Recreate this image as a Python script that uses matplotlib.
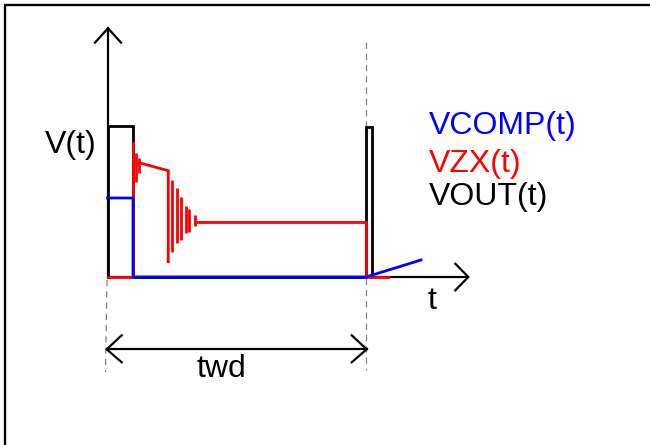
import numpy as np
import matplotlib
matplotlib.use("Agg")
import matplotlib.pyplot as plt

plt.rcParams['font.family'] = ['Liberation Sans', 'DejaVu Sans']

# ---- data (schematic units: t to the right, V upwards, origin at axes crossing) ----
vout_t = [0, 0, 25.5, 25.5, 258.5, 258.5, 264.5, 264.5]
vout_v = [0, 151, 151, 0, 0, 150, 150, 0]

vcomp_t = [0, 25.5, 25.5, 258.5, 313.5]
vcomp_v = [79, 79, 0, 0, 17]

vzx_t = [0, 25.5, 25.5]
vzx_v = [0, 0, 134]
vzx_slope_t = [31.5, 60.8, 60.8]
vzx_slope_v = [114.3, 106.3, 15.3]
vzx_tail_t = [87.5, 258.5, 258.5, 280.5]
vzx_tail_v = [55.3, 55.3, 0, 0]

ring1_t = [28.5, 31.0]
ring1_lo = [95.3, 104.0]
ring1_hi = [124.0, 119.0]

ring2_t = [64.5, 69.8, 73.5, 78.5, 81.8, 87.5]
ring2_lo = [25.0, 33.7, 37.0, 43.7, 45.3, 51.3]
ring2_hi = [97.0, 88.7, 79.7, 71.0, 68.0, 62.0]

labels = ["VCOMP(t)", "VZX(t)", "VOUT(t)"]
label_colors = ["#0000ff", "#ff0000", "#000000"]
label_v = [143, 105.3, 72]

t_axis_end = 360.8
v_axis_end = 248.7
twd_start, twd_end, twd_level = -0.8, 259.2, -72.3

BLUE = "#0000ff"
RED = "#ff0000"
BLACK = "#000000"
GRAY = "#808080"

fig = plt.figure(figsize=(6.5, 4.45), dpi=100)
ax = fig.add_axes([0, 0, 1, 1])
ax.set_xlim(-107.5, 542.5)
ax.set_ylim(-168, 277)
ax.axis('off')

# frame (top and left edges)
ax.plot([4.5 / 650, 4.5 / 650, 1.0], [0.0, 1 - 5 / 445, 1 - 5 / 445],
        transform=ax.transAxes, color=BLACK, lw=1.7, solid_joinstyle='miter',
        clip_on=False)

# dashed guides
ax.plot([258.5, 258.5], [235, -93], color=GRAY, lw=0.9, ls=(0, (5, 4)))
ax.plot([-0.5, -2.0], [-3, -95], color=GRAY, lw=0.9, ls=(0, (5, 4)))

axlw = 1.6
# axes with open arrows
ax.plot([0.5, 0.5], [0, v_axis_end], color=BLACK, lw=axlw)
ax.plot([0.5 - 13, 0.5, 0.5 + 13], [v_axis_end - 14.3, v_axis_end, v_axis_end - 14.3],
        color=BLACK, lw=axlw)
ax.plot([0.5, t_axis_end], [0, 0], color=BLACK, lw=axlw)
ax.plot([t_axis_end - 13, t_axis_end, t_axis_end - 13], [13.3, 0, -13.3],
        color=BLACK, lw=axlw)

# twd double arrow
ax.plot([twd_start, twd_end], [twd_level, twd_level], color=BLACK, lw=axlw)
ax.plot([twd_start + 15, twd_start, twd_start + 15],
        [twd_level + 14, twd_level, twd_level - 13], color=BLACK, lw=axlw)
ax.plot([twd_end - 15, twd_end, twd_end - 15],
        [twd_level + 14, twd_level, twd_level - 13], color=BLACK, lw=axlw)

wlw = 2.0
# VOUT
ax.plot(vout_t, vout_v, color=BLACK, lw=wlw, solid_joinstyle='miter')
# VZX
ax.plot(vzx_t, vzx_v, color=RED, lw=wlw, solid_joinstyle='miter')
ax.plot(vzx_slope_t, vzx_slope_v, color=RED, lw=wlw, solid_joinstyle='miter')
ax.plot(vzx_tail_t, vzx_tail_v, color=RED, lw=wlw, solid_joinstyle='miter')
ax.vlines(ring1_t, ring1_lo, ring1_hi, color=RED, lw=wlw)
ax.vlines(ring2_t, ring2_lo, ring2_hi, color=RED, lw=wlw)
# VCOMP
ax.plot(vcomp_t, vcomp_v, color=BLUE, lw=wlw, solid_joinstyle='miter')

fs = 23
ax.text(-62.5, 123.7, "V(t)", fontsize=fs, color=BLACK, ha='left', va='baseline')
ax.text(320.5, -32, "t", fontsize=fs, color=BLACK, ha='left', va='baseline')
ax.text(113.5, -99.7, "twd", fontsize=fs, color=BLACK, ha='center', va='baseline')
for lab, col, v in zip(labels, label_colors, label_v):
    ax.text(321.8, v, lab, fontsize=fs, color=col, ha='left', va='baseline')

fig.savefig("out.png", dpi=100)
